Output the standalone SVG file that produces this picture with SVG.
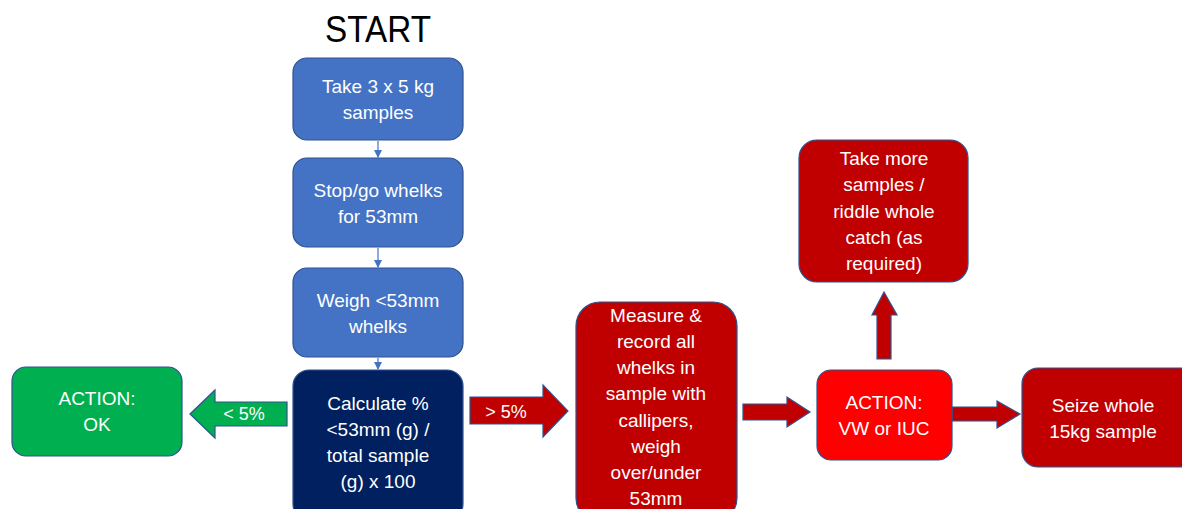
<svg xmlns="http://www.w3.org/2000/svg" width="1182" height="509" viewBox="0 0 1182 509">
<defs>
<style>
.box{stroke:#2F528F;stroke-width:1.2}
.blue{fill:#4472C4}
.navy{fill:#002060}
.green{fill:#00B050}
.dred{fill:#C00000}
.red{fill:#FF0000}
.t{font-family:"Liberation Sans",Arial,sans-serif;font-size:19px;fill:#ffffff;text-anchor:middle}
.big{stroke:#2F528F;stroke-width:1.2}
.thin{stroke:#4472C4;stroke-width:1.2;fill:none}
</style>
<marker id="ah" markerWidth="8" markerHeight="8" refX="7" refY="4" orient="auto" markerUnits="userSpaceOnUse">
<path d="M0,0 L8,4 L0,8 Z" fill="#4472C4"/>
</marker>
</defs>
<rect width="1182" height="509" fill="#ffffff"/>
<text x="378" y="42" font-family="'Liberation Sans',Arial,sans-serif" font-size="36" text-anchor="middle" textLength="106" lengthAdjust="spacingAndGlyphs" fill="#000000">START</text>

<g id="connectors">
<line class="thin" x1="378" y1="141" x2="378" y2="157" marker-end="url(#ah)"/>
<line class="thin" x1="378" y1="248" x2="378" y2="267" marker-end="url(#ah)"/>
<line class="thin" x1="378" y1="358" x2="378" y2="369" marker-end="url(#ah)"/>
<g id="arrow-lt5">
<path class="big green" d="M190,414 L215,390 L215,402 L287,402 L287,426 L215,426 L215,438 Z"/>
<text class="t" x="244" y="420" style="font-size:18px">&lt; 5%</text>
</g>
<g id="arrow-gt5">
<path class="big dred" d="M470,397 L543,397 L543,385 L568,411 L543,437 L543,424 L470,424 Z"/>
<text class="t" x="506" y="418" style="font-size:18px">&gt; 5%</text>
</g>
<path class="big dred" d="M743,404 L787,404 L787,397 L810,412 L787,427 L787,420 L743,420 Z"/>
<path class="big dred" d="M877,359 L877,315 L872,315 L884,292 L897,315 L891,315 L891,359 Z"/>
<path class="big dred" d="M952,407 L997,407 L997,401 L1020,414 L997,428 L997,421 L952,421 Z"/>
</g>

<g id="n1">
<rect class="box blue" x="293" y="58" width="170" height="82" rx="14"/>
<text class="t" x="378" y="93">Take 3 x 5 kg</text>
<text class="t" x="378" y="119">samples</text>
</g>
<g id="n2">
<rect class="box blue" x="293" y="158" width="170" height="89" rx="14"/>
<text class="t" x="378" y="197">Stop/go whelks</text>
<text class="t" x="378" y="223">for 53mm</text>
</g>
<g id="n3">
<rect class="box blue" x="293" y="268" width="170" height="89" rx="14"/>
<text class="t" x="378" y="307">Weigh &lt;53mm</text>
<text class="t" x="378" y="333">whelks</text>
</g>
<g id="n4">
<rect class="box navy" x="293" y="370" width="170" height="150" rx="16"/>
<text class="t" x="378" y="410">Calculate %</text>
<text class="t" x="378" y="436">&lt;53mm (g) /</text>
<text class="t" x="378" y="462">total sample</text>
<text class="t" x="378" y="488">(g) x 100</text>
</g>
<g id="n-ok">
<rect class="box green" x="12" y="367" width="170" height="89" rx="14"/>
<text class="t" x="97" y="405">ACTION:</text>
<text class="t" x="97" y="431">OK</text>
</g>
<g id="n-measure">
<rect class="box dred" x="576" y="302" width="161" height="220" rx="24"/>
<text class="t" x="656" y="322">Measure &amp;</text>
<text class="t" x="656" y="348">record all</text>
<text class="t" x="656" y="374">whelks in</text>
<text class="t" x="656" y="400">sample with</text>
<text class="t" x="656" y="427">callipers,</text>
<text class="t" x="656" y="453">weigh</text>
<text class="t" x="656" y="479">over/under</text>
<text class="t" x="656" y="505">53mm</text>
</g>
<g id="n-action">
<rect class="box red" x="817" y="370" width="135" height="90" rx="14"/>
<text class="t" x="884" y="409">ACTION:</text>
<text class="t" x="884" y="435">VW or IUC</text>
</g>
<g id="n-more">
<rect class="box dred" x="799" y="140" width="169" height="142" rx="18"/>
<text class="t" x="884" y="165">Take more</text>
<text class="t" x="884" y="191">samples /</text>
<text class="t" x="884" y="218">riddle whole</text>
<text class="t" x="884" y="244">catch (as</text>
<text class="t" x="884" y="270">required)</text>
</g>
<g id="n-seize">
<rect class="box dred" x="1022" y="368" width="175" height="99" rx="16"/>
<text class="t" x="1103" y="412">Seize whole</text>
<text class="t" x="1103" y="438">15kg sample</text>
</g>
</svg>
